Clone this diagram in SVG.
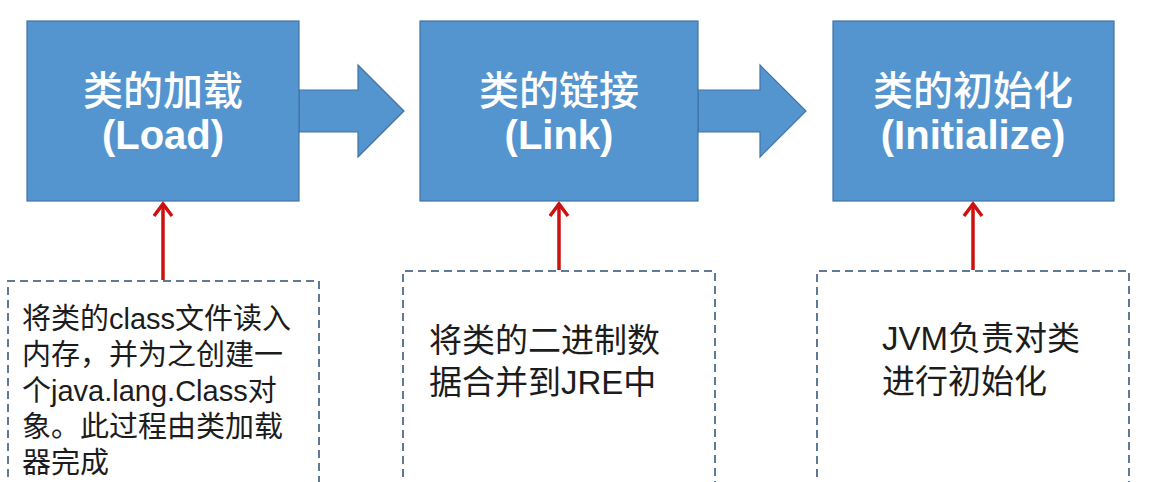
<svg xmlns="http://www.w3.org/2000/svg" width="1157" height="482" viewBox="0 0 1157 482">
<style>
.box{fill:#5495CF;stroke:#4272A3;stroke-width:1.2}
.flow{fill:#5495CF;stroke:#4272A3;stroke-width:1.2;stroke-linejoin:miter}
.title{font-family:"Liberation Sans","Noto Sans CJK SC",sans-serif;font-weight:bold;fill:#fff;font-size:40px;text-anchor:middle}
.cjk{font-weight:500}
.note{fill:none;stroke:#5E7A96;stroke-width:2;stroke-dasharray:8 5}
.txt{font-family:"Liberation Sans","Noto Sans CJK SC",sans-serif;fill:#1c1c1c}
.red{stroke:#CC1111;stroke-width:3.5;fill:none}
</style>
<rect width="1157" height="482" fill="#fff"/>
<g id="connectors">
<polygon class="flow" points="299,90 358,90 358,65 404,111 358,157 358,132 299,132"/>
<polygon class="flow" points="698,90 760,90 760,65 806,111 760,157 760,132 698,132"/>
<line class="red" x1="163" y1="280" x2="163" y2="204"/>
<path class="red" d="M154,216 L163,204 L172,216"/>
<line class="red" x1="559" y1="270" x2="559" y2="204"/>
<path class="red" d="M550,216 L559,204 L568,216"/>
<line class="red" x1="973" y1="270" x2="973" y2="204"/>
<path class="red" d="M964,216 L973,204 L982,216"/>
</g>
<g id="load">
<rect class="box" x="27" y="21" width="272" height="180"/>
<text class="title cjk" x="163" y="105">类的加载</text>
<text class="title" x="163" y="149">(Load)</text>
</g>
<g id="link">
<rect class="box" x="420" y="21" width="278" height="180"/>
<text class="title cjk" x="559" y="105">类的链接</text>
<text class="title" x="559" y="149">(Link)</text>
</g>
<g id="initialize">
<rect class="box" x="833" y="21" width="281" height="180"/>
<text class="title cjk" x="973" y="105">类的初始化</text>
<text class="title" x="973" y="149">(Initialize)</text>
</g>
<g id="note-load">
<path class="note" d="M8,490 L8,281 L319,281 L319,490"/>
<text class="txt" font-size="29">
<tspan x="22" y="329">将类的class文件读入</tspan>
<tspan x="22" y="365">内存，并为之创建一</tspan>
<tspan x="22" y="401">个java.lang.Class对</tspan>
<tspan x="22" y="437">象。此过程由类加载</tspan>
<tspan x="22" y="473">器完成</tspan>
</text>
</g>
<g id="note-link">
<path class="note" d="M403,490 L403,271 L715,271 L715,490"/>
<text class="txt" font-size="33">
<tspan x="429" y="352">将类的二进制数</tspan>
<tspan x="429" y="394">据合并到JRE中</tspan>
</text>
</g>
<g id="note-init">
<path class="note" d="M817,490 L817,271 L1129,271 L1129,490"/>
<text class="txt" font-size="33">
<tspan x="882" y="350">JVM负责对类</tspan>
<tspan x="882" y="393">进行初始化</tspan>
</text>
</g>
</svg>
